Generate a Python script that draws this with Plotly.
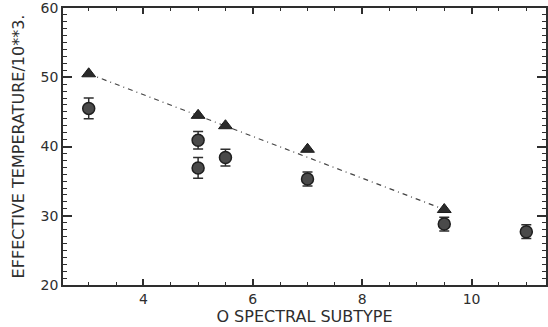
import plotly.graph_objects as go

# Data
tri_x = [3, 5, 5.5, 7, 9.5]
tri_y = [50.5, 44.5, 43.0, 39.6, 30.9]

circ_x = [3, 5, 5, 5.5, 7, 9.5, 11]
circ_y = [45.5, 40.9, 36.9, 38.4, 35.3, 28.8, 27.7]
circ_err = [1.5, 1.25, 1.5, 1.2, 1.0, 1.0, 1.0]

fit_x = [3, 9.5]
fit_y = [50.5, 30.9]

x_ticks = [4, 6, 8, 10]
y_ticks = [20, 30, 40, 50, 60]

ink = "#2e2e2e"
font_family = "DejaVu Sans"

fig = go.Figure()

fig.add_trace(go.Scatter(
    x=fit_x, y=fit_y, mode="lines",
    line=dict(color="#444444", width=1.2, dash="5px,4px,1px,4px"),
    showlegend=False, hoverinfo="skip"))

fig.add_trace(go.Scatter(
    x=circ_x, y=circ_y, mode="markers",
    marker=dict(symbol="circle", size=12, color="#4a4a4a",
                line=dict(color="#1f1f1f", width=1.5)),
    error_y=dict(type="data", array=circ_err, visible=True,
                 color=ink, thickness=1.5, width=5),
    showlegend=False))

fig.add_trace(go.Scatter(
    x=tri_x, y=tri_y, mode="markers",
    marker=dict(symbol="triangle-up", size=12, color="#2a2a2a",
                line=dict(color="#1a1a1a", width=1)),
    showlegend=False))

fig.update_layout(
    width=548, height=327,
    margin=dict(l=63, r=0, t=8, b=42),
    paper_bgcolor="white", plot_bgcolor="white",
    font=dict(family=font_family, color=ink, size=14),
    xaxis=dict(
        range=[2.53, 11.36],
        tickvals=x_ticks, ticktext=[str(v) for v in x_ticks],
        ticks="inside", ticklen=6, tickwidth=1.5, tickcolor=ink,
        minor=dict(dtick=0.5, tick0=0, ticks="inside", ticklen=3, tickwidth=1, tickcolor=ink),
        showline=True, linecolor=ink, linewidth=1.5, mirror="ticks",
        showgrid=False, zeroline=False,
        tickfont=dict(size=14),
        title=dict(text="O SPECTRAL SUBTYPE", font=dict(size=16), standoff=1),
    ),
    yaxis=dict(
        range=[20, 60],
        tickvals=y_ticks, ticktext=[str(v) for v in y_ticks],
        ticks="inside", ticklen=9, tickwidth=1.5, tickcolor=ink,
        minor=dict(dtick=1, tick0=0, ticks="inside", ticklen=4, tickwidth=1, tickcolor=ink),
        showline=True, linecolor=ink, linewidth=1.5, mirror="ticks",
        showgrid=False, zeroline=False,
        ticklabeloverflow="allow",
        tickfont=dict(size=14),
        title=dict(text="EFFECTIVE TEMPERATURE/10**3.", font=dict(size=16), standoff=12),
    ),
)

fig.write_html("out.html", config={"displayModeBar": False},
               post_script="document.body.style.margin='0';document.body.style.overflow='hidden';")
